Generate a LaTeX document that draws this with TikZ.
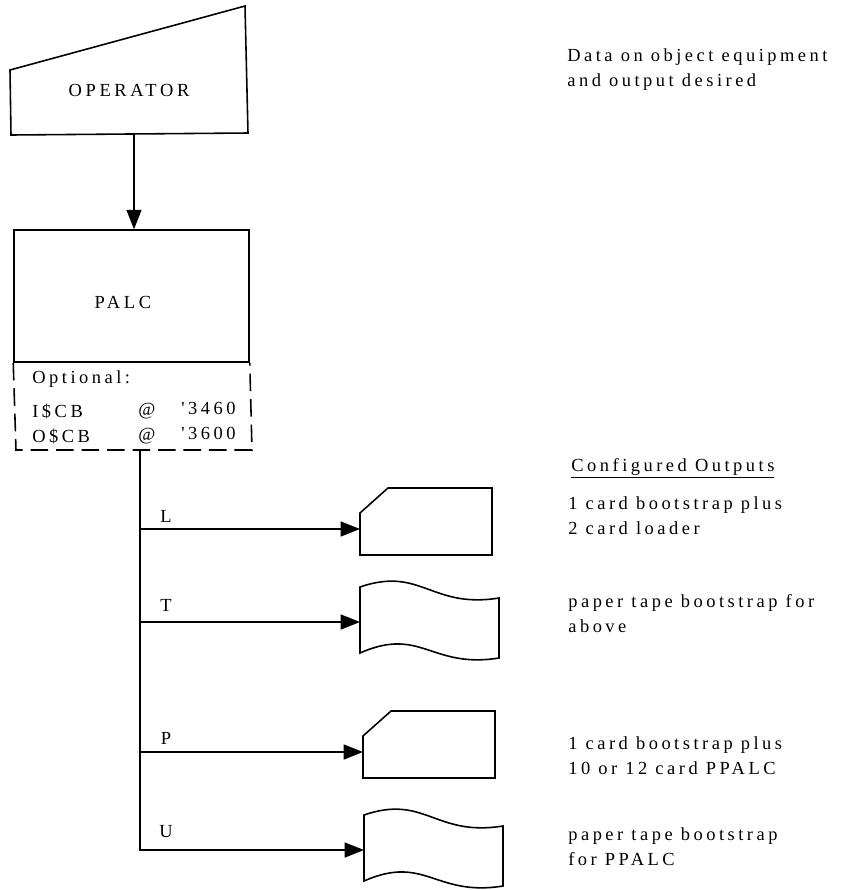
\documentclass[tikz,border=0pt]{standalone}
\usepackage{fontspec}
\setmainfont{Liberation Serif}
\newfontfamily\scanfont{Liberation Serif}[LetterSpace=19]
\newfontfamily\capsfont{Liberation Serif}[LetterSpace=20]
\usetikzlibrary{arrows.meta}

\begin{document}
\begin{tikzpicture}[x=0.02cm,y=-0.02cm,
  box/.style={rectangle,draw,line width=0.9pt,minimum width=4.7cm,minimum height=2.64cm,inner sep=0pt},
  txt/.style={inner sep=0pt,font=\scanfont\fontsize{10.5}{13.7}\selectfont,align=left},
  caps/.style={inner sep=0pt,font=\capsfont\fontsize{10.5}{12}\selectfont},
  thickline/.style={line width=0.9pt},
  arrow/.style={line width=0.9pt,-{Triangle[length=11pt,width=8.5pt]}},
  card/.pic={\draw[thickline] (0,-16) -- (28,-41) -- (132,-41) -- (132,26) -- (0,26) -- cycle;},
  tape/.pic={\draw[thickline] (0,-35) .. controls (61,-56) and (71,-13) .. (139,-24) -- (139,36) .. controls (71,47) and (61,4) .. (0,31) -- cycle;}]
\useasboundingbox (0,0) rectangle (841,890);

% operator input
\draw[thickline] (10,70) -- (245,6) -- (248,133) -- (11,135) -- cycle;
\node[caps] (op) at (129,90) {OPERATOR};
\coordinate (opb) at (134,134);

% program box
\node[box] (palc) at (131.5,296) {};
\node[caps] (palct) at (123,302) {PALC};
\draw[arrow] (opb) -- (opb |- palc.north);

% optional part
\draw[thickline,dash pattern=on 10pt off 4.5pt] (palc.south west) -- (16,450) -- (252,450) -- (palc.south east);
\node[txt,anchor=base west] (opt) at (32,383) {Optional:};
\node[txt,anchor=base west] (icb) at (32,417) {I\$CB};
\node[txt,anchor=base west] (iat) at (138,415) {@};
\node[txt,anchor=base east] (iadr) at (236,414) {'3460};
\node[txt,anchor=base west] (ocb) at (32,442) {O\$CB};
\node[txt,anchor=base west] (oat) at (138,440) {@};
\node[txt,anchor=base east] (oadr) at (236,439) {'3600};

% outputs
\coordinate (trk) at (140,450);
\coordinate (oL) at (360,529);
\coordinate (oT) at (360,622);
\coordinate (oP) at (363,752);
\coordinate (oU) at (364,850);
\pic at (oL) {card};
\pic at (oT) {tape};
\pic at (oP) {card};
\pic at (oU) {tape};
\draw[arrow] (trk) |- (oU);
\draw[arrow] (trk |- oL) -- (oL);
\draw[arrow] (trk |- oT) -- (oT);
\draw[arrow] (trk |- oP) -- (oP);
\node[txt] (kL) at (166,516) {L};
\node[txt] (kT) at (166,605) {T};
\node[txt] (kP) at (166,738) {P};
\node[txt] (kU) at (166,832) {U};

% notes
\node[txt,anchor=base west] (note) at (567,86) {Data on object equipment\\and output desired};
\node[txt,anchor=base west] (cfg) at (571,471) {\underline{Configured Outputs}};
\node[txt,anchor=base west] (dL) at (568,534) {1 card bootstrap plus\\2 card loader};
\node[txt,anchor=base west] (dT) at (568,632) {paper tape bootstrap for\\above};
\node[txt,anchor=base west] (dP) at (568,774) {1 card bootstrap plus\\10 or 12 card PPALC};
\node[txt,anchor=base west] (dU) at (568,865) {paper tape bootstrap\\for PPALC};
\end{tikzpicture}
\end{document}
